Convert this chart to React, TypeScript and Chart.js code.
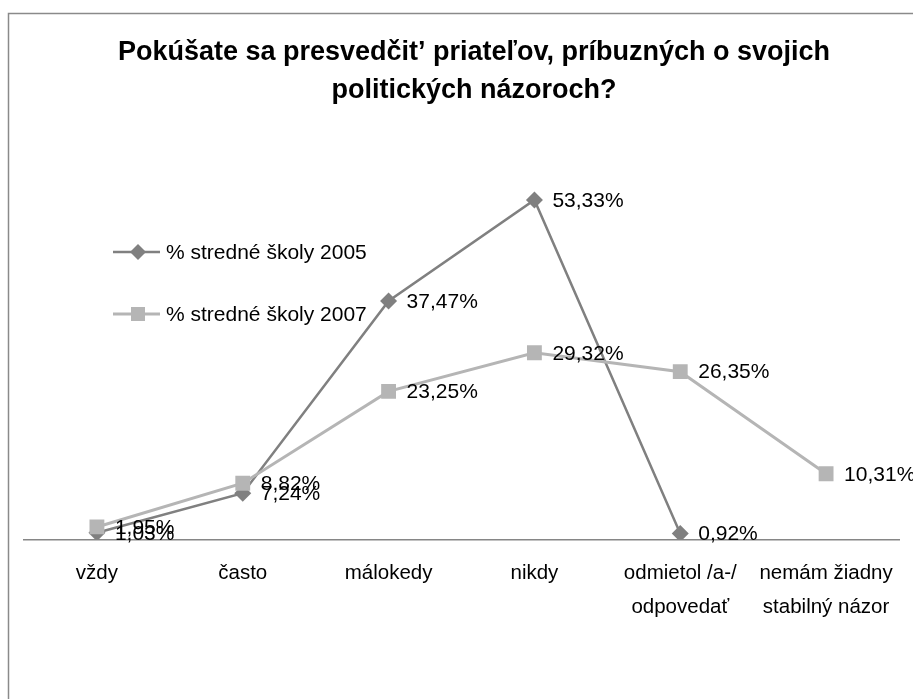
import React, { useEffect, useRef } from "react";
import { Chart, registerables } from "chart.js";

Chart.register(...registerables);

const categories: (string | string[])[] = [
  "vždy",
  "často",
  "málokedy",
  "nikdy",
  ["odmietol /a-/", "odpovedať"],
  ["nemám žiadny", "stabilný názor"],
];
const series2005: (number | null)[] = [1.03, 7.24, 37.47, 53.33, 0.92, null];
const series2007: (number | null)[] = [1.95, 8.82, 23.25, 29.32, 26.35, 10.31];
const seriesNames = ["% stredné školy 2005", "% stredné školy 2007"];
const titleLines = [
  "Pokúšate sa presvedčit’ priateľov, príbuzných o svojich",
  "politických názoroch?",
];

const FONT = "'Liberation Sans', Arial, sans-serif";
const C2005 = "#808080";
const C2007 = "#b5b5b5";

const fmt = (v: number) => v.toFixed(2).replace(".", ",") + "%";

export default function App() {
  const ref = useRef<HTMLCanvasElement | null>(null);

  useEffect(() => {
    if (!ref.current) return;

    const decorPlugin = {
      id: "decor",
      beforeDraw(chart: any) {
        const ctx = chart.ctx;
        ctx.save();
        ctx.fillStyle = "#ffffff";
        ctx.fillRect(0, 0, chart.width, chart.height);
        ctx.strokeStyle = "#8a8a8a";
        ctx.lineWidth = 1.5;
        ctx.beginPath();
        ctx.moveTo(8.5, chart.height + 5);
        ctx.lineTo(8.5, 13.5);
        ctx.lineTo(chart.width + 5, 13.5);
        ctx.stroke();
        // title
        ctx.fillStyle = "#000";
        ctx.font = `bold 27px ${FONT}`;
        ctx.textAlign = "center";
        ctx.textBaseline = "middle";
        ctx.fillText(titleLines[0], 474, 53);
        ctx.fillText(titleLines[1], 474, 91);
        ctx.restore();
      },
      afterDatasetsDraw(chart: any) {
        const ctx = chart.ctx;
        ctx.save();
        // data labels
        ctx.fillStyle = "#000";
        ctx.font = `21px ${FONT}`;
        ctx.textAlign = "left";
        ctx.textBaseline = "middle";
        chart.data.datasets.forEach((ds: any, i: number) => {
          const meta = chart.getDatasetMeta(i);
          meta.data.forEach((pt: any, j: number) => {
            const v = ds.data[j];
            if (v === null || v === undefined) return;
            ctx.fillText(fmt(v), pt.x + 18, pt.y + 1);
          });
        });
        // legend
        const items = [
          { y: 252, color: C2005, shape: "diamond" },
          { y: 314, color: C2007, shape: "square" },
        ];
        items.forEach((it, i) => {
          ctx.strokeStyle = it.color;
          ctx.lineWidth = i === 0 ? 2.5 : 3;
          ctx.beginPath();
          ctx.moveTo(113, it.y);
          ctx.lineTo(160, it.y);
          ctx.stroke();
          ctx.fillStyle = it.color;
          if (it.shape === "diamond") {
            ctx.beginPath();
            ctx.moveTo(138, it.y - 8);
            ctx.lineTo(146, it.y);
            ctx.lineTo(138, it.y + 8);
            ctx.lineTo(130, it.y);
            ctx.closePath();
            ctx.fill();
          } else {
            ctx.fillRect(131, it.y - 7, 14, 14);
          }
          ctx.fillStyle = "#000";
          ctx.fillText(seriesNames[i], 166, it.y + 1);
        });
        ctx.restore();
      },
    };

    const chart = new Chart(ref.current, {
      type: "line",
      data: {
        labels: categories,
        datasets: [
          {
            label: seriesNames[0],
            data: series2005,
            borderColor: C2005,
            backgroundColor: C2005,
            borderWidth: 2.5,
            pointStyle: "rectRot",
            pointRadius: 8.5,
            pointBorderWidth: 0,
            pointBackgroundColor: C2005,
            spanGaps: false,
            order: 1,
          },
          {
            label: seriesNames[1],
            data: series2007,
            borderColor: C2007,
            backgroundColor: C2007,
            borderWidth: 3,
            pointStyle: "rect",
            pointRadius: 10.5,
            pointBorderWidth: 0,
            pointBackgroundColor: C2007,
            order: 0,
          },
        ],
      },
      options: {
        responsive: false,
        animation: false,
        layout: { padding: { left: 24, right: 14, top: 157.5, bottom: 58 } },
        plugins: {
          legend: { display: false },
          title: { display: false },
          tooltip: { enabled: false },
        },
        scales: {
          x: {
            offset: true,
            grid: { display: false, drawTicks: false },
            border: { display: true, color: "#868686", width: 1.5 },
            ticks: {
              color: "#000",
              font: { family: FONT, size: 20.5, lineHeight: 1.65 },
              padding: 17,
              maxRotation: 0,
              autoSkip: false,
            },
          },
          y: {
            display: false,
            min: 0,
            max: 60,
          },
        },
      },
      plugins: [decorPlugin],
    });

    return () => chart.destroy();
  }, []);

  return (
    <div style={{ position: "absolute", left: 0, top: 0, width: 913, height: 699, background: "#fff" }}>
      <canvas ref={ref} width={913} height={699} style={{ display: "block" }} />
    </div>
  );
}
